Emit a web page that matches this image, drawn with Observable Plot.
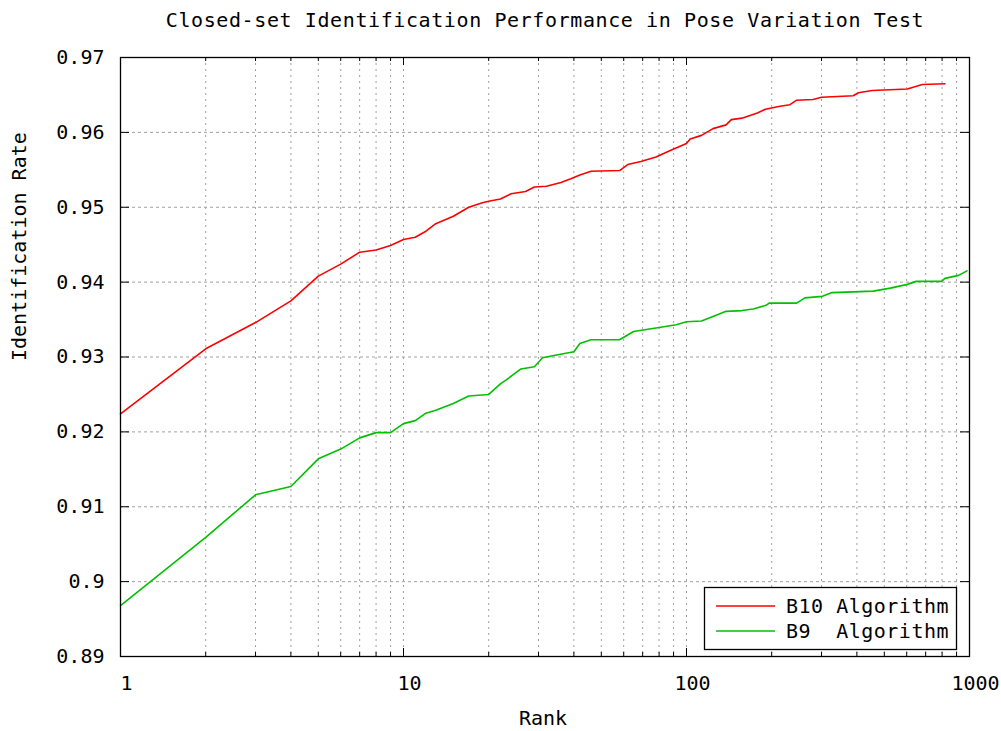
<!DOCTYPE html>
<html><head><meta charset="utf-8">
<script src="https://cdn.jsdelivr.net/npm/d3@7"></script>
<script src="https://cdn.jsdelivr.net/npm/@observablehq/plot@0.6"></script>
<style>body{margin:0;background:#fff} svg{display:block}</style>
</head><body><div id="chart"></div>
<script>
const titleText = "Closed-set Identification Performance in Pose Variation Test";
const xLabel = "Rank";
const yLabel = "Identification Rate";
const seriesNames = ["B10 Algorithm", "B9  Algorithm"];
const seriesColors = ["#ff0000", "#00c000"];

const b10Rank = [1,2,3,4,5,6,7,8,9,10,11,12,13,15,17,19,20,22,24,27,29,32,36,39,42,46,58,62,69,78,88,100,103,113,124,138,144,157,178,190,214,232,245,280,300,388,405,453,603,681,819];
const b10Rate = [0.9224,0.9311,0.9346,0.9375,0.9408,0.9424,0.9440,0.9443,0.9449,0.9457,0.9460,0.9468,0.9478,0.9488,0.9500,0.9506,0.9508,0.9511,0.9518,0.9521,0.9527,0.9528,0.9533,0.9538,0.9543,0.9548,0.9549,0.9557,0.9561,0.9567,0.9576,0.9585,0.9591,0.9596,0.9605,0.9610,0.9617,0.9619,0.9626,0.9631,0.9635,0.9637,0.9643,0.9644,0.9647,0.9649,0.9653,0.9656,0.9658,0.9664,0.9665];

const b9Rank = [1,2,3,4,5,6,7,8,9,10,11,12,13,15,17,20,22,23,26,29,31,34,40,42,46,58,65,76,92,100,113,126,138,157,172,191,196,245,262,302,327,457,525,603,648,797,819,915,980];
const b9Rate = [0.8968,0.9059,0.9116,0.9127,0.9164,0.9177,0.9192,0.9199,0.9199,0.9211,0.9215,0.9225,0.9229,0.9238,0.9248,0.9250,0.9264,0.9269,0.9284,0.9287,0.9299,0.9302,0.9307,0.9318,0.9323,0.9323,0.9334,0.9338,0.9343,0.9347,0.9348,0.9355,0.9361,0.9362,0.9364,0.9369,0.9372,0.9372,0.9379,0.9381,0.9386,0.9388,0.9392,0.9397,0.9401,0.9401,0.9405,0.9409,0.9415];

const yTicks = [0.89,0.90,0.91,0.92,0.93,0.94,0.95,0.96,0.97];
const yTickLabels = ["0.89","0.9","0.91","0.92","0.93","0.94","0.95","0.96","0.97"];
const xMajorTicks = [1,10,100,1000];
const xTickLabels = ["1","10","100","1000"];
const xMinorTicks = [2,3,4,5,6,7,8,9,20,30,40,50,60,70,80,90,200,300,400,500,600,700,800,900];

const rows = [
  ...b10Rank.map((r,i)=>({series:seriesNames[0], rank:r, rate:b10Rate[i]})),
  ...b9Rank.map((r,i)=>({series:seriesNames[1], rank:r, rate:b9Rate[i]}))
];

const W = 1001, H = 731, mL = 120, mR = 32, mT = 57, mB = 75;
const pw = W - mL - mR, ph = H - mT - mB;
const gridStyle = {stroke:"#a0a0a0", strokeOpacity:1, strokeWidth:1, strokeDasharray:"3,3"};

const chart = Plot.plot({
  width: W, height: H,
  marginLeft: mL, marginRight: mR, marginTop: mT, marginBottom: mB,
  style: {fontFamily: "'DejaVu Sans Mono', monospace", fontSize: "20px", background: "white", color: "black"},
  x: {type: "log", domain: [1, 1000]},
  y: {domain: [0.89, 0.97]},
  color: {domain: seriesNames, range: seriesColors},
  marks: [
    Plot.gridY(yTicks.slice(1, -1), gridStyle),
    Plot.gridX([...xMinorTicks, 10, 100], {...gridStyle, strokeDasharray:"2,4"}),
    Plot.line(rows, {x: "rank", y: "rate", z: "series", stroke: "series", strokeWidth: 1.6}),
    Plot.tickY(yTicks, {y: d => d, insetRight: pw - 9, stroke: "black"}),
    Plot.tickY(yTicks, {y: d => d, insetLeft: pw - 9, stroke: "black"}),
    Plot.tickX(xMajorTicks, {x: d => d, insetTop: ph - 8, stroke: "black"}),
    Plot.tickX(xMajorTicks, {x: d => d, insetBottom: ph - 8, stroke: "black"}),
    Plot.tickX(xMinorTicks, {x: d => d, insetTop: ph - 4, stroke: "black"}),
    Plot.tickX(xMinorTicks, {x: d => d, insetBottom: ph - 4, stroke: "black"}),
    Plot.frame({stroke: "black", strokeWidth: 1.3}),
    Plot.axisY({ticks: yTicks, tickFormat: d => yTickLabels[yTicks.indexOf(d)], tickSize: 0, tickPadding: 16, label: null, fontSize: 20}),
    Plot.axisX({ticks: xMajorTicks, tickFormat: d => xTickLabels[xMajorTicks.indexOf(d)], tickSize: 0, tickPadding: 19, dx: 6, label: null, fontSize: 20}),
    Plot.text([titleText], {text: d => d, frameAnchor: "top", dy: -37, lineAnchor: "middle", fontSize: 20, className: "ttl"}),
    Plot.text([xLabel], {text: d => d, frameAnchor: "bottom", dy: 62, dx: -2, lineAnchor: "middle", fontSize: 20}),
    Plot.text([yLabel], {text: d => d, frameAnchor: "left", dx: -101, dy: 4, rotate: -90, lineAnchor: "middle", fontSize: 20})
  ]
});
document.getElementById("chart").appendChild(chart);

d3.select(chart).selectAll(".ttl text").style("letter-spacing", "0.6px");

// legend
const lg = d3.select(chart).append("g");
lg.append("rect").attr("x", 704.5).attr("y", 587.5).attr("width", 252).attr("height", 62)
  .attr("fill", "white").attr("stroke", "black").attr("stroke-width", 1.3);
seriesNames.forEach((name, i) => {
  const yy = 606 + i * 25;
  lg.append("line").attr("x1", 716).attr("x2", 775).attr("y1", yy).attr("y2", yy)
    .attr("stroke", seriesColors[i]).attr("stroke-width", 1.6);
  lg.append("text").attr("x", 786).attr("y", yy).attr("dy", "0.35em")
    .attr("text-anchor", "start")
    .attr("font-family", "'DejaVu Sans Mono', monospace").attr("font-size", 20)
    .style("white-space", "pre").style("letter-spacing", "0.5px").text(name);
});
</script></body></html>
